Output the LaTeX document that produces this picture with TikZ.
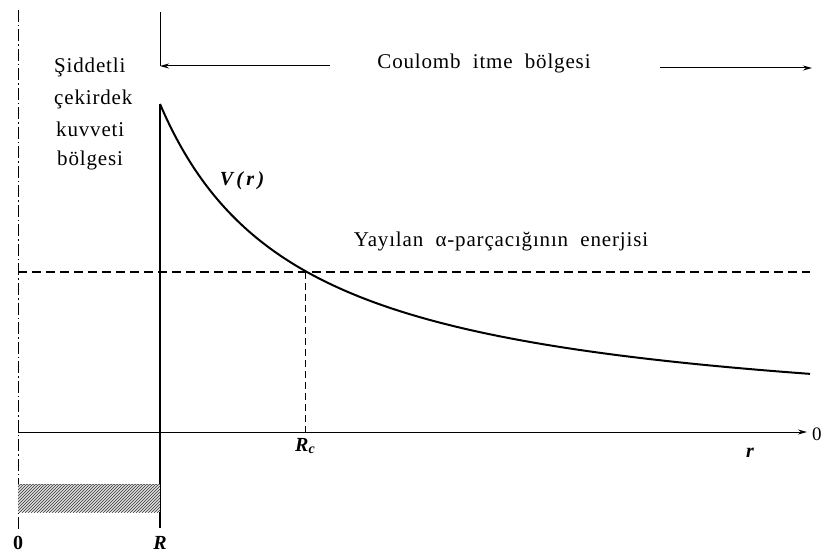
\documentclass[tikz,border=0pt]{standalone}
\usepackage{fontspec}
\setmainfont{Liberation Serif}
\usetikzlibrary{arrows.meta,patterns}
\begin{document}
\begin{tikzpicture}[x=1pt,y=-1pt,
  lbl/.style={inner sep=0pt,font=\fontsize{21}{30}\selectfont\addfontfeature{LetterSpace=4}},
  mlbl/.style={inner sep=0pt,font=\fontsize{20}{30}\selectfont\bfseries\itshape},
  thinln/.style={line width=1pt},
  arr/.style={-{Stealth[length=9pt,width=5pt]}}]
\useasboundingbox (0,0) rectangle (825,556);
% coordinates
\coordinate (Otop) at (18,10);
\coordinate (Obot) at (18,530);
\coordinate (Rtop) at (160,12);
\coordinate (Rcorner) at (160,66);
\coordinate (Rcurve) at (160,104);
\coordinate (Rbot) at (160,528);
\coordinate (Ax0) at (18,432);
\coordinate (Ax1) at (807,432);
\coordinate (E0) at (18,272);
\coordinate (E1) at (810,272);
\coordinate (Rc) at (305,272);
\coordinate (Rcax) at (305,432);
\coordinate (La) at (330,66);
\coordinate (Ra0) at (660,68);
\coordinate (Ra1) at (812,68);
% left dash-dot line
\draw[line width=1pt, dash pattern=on 12pt off 3pt on 1.5pt off 3pt] (Otop) -- (Obot);
% R vertical line
\draw[line width=2pt] (Rcurve) -- (Rbot);
\draw[thinln] (Rtop) -- (Rcorner);
% top arrows
\draw[thinln,arr] (La) -- (Rcorner);
\draw[thinln,arr] (Ra0) -- (Ra1);
% hatched box
\fill[black!12] (18,484) rectangle (160,512);
\path[pattern=north east lines, pattern color=black!80] (18,484) rectangle (160,512);
\draw[line width=0.5pt, densely dotted, black!60] (18,484) -- (160,484);
% axis
\draw[thinln,arr] (Ax0) -- (Ax1);
% energy line
\draw[line width=1.4pt, dash pattern=on 9pt off 5pt] (E0) -- (E1);
\draw[line width=0.8pt, dash pattern=on 7pt off 4pt] (Rc) -- (Rcax);
% curve V = k/(x-20)
\draw[line width=2pt, domain=160:810, samples=120, smooth] plot (\x, {432-459.2/((\x-20)/100)});
% labels
\node[lbl, anchor=west] (t1) at (54,67) {Şiddetli};
\node[lbl, anchor=west] (t2) at (54,99) {çekirdek};
\node[lbl, anchor=west] (t3) at (56,129) {kuvveti};
\node[lbl, anchor=west] (t4) at (57,160) {bölgesi};
\node[lbl] (coul) at (484,63) {Coulomb \ itme \ bölgesi};
\node[mlbl] (vr) at (242,181) {V\,(\,r\,)};
\node[lbl] (yay) at (501,241) {Yayılan \ α-parçacığının \ enerjisi};
\node[mlbl] (rc) at (305,446) {R\raisebox{-0.3ex}{\fontsize{14}{14}\selectfont c}};
\node[mlbl] (r) at (750,453) {r};
\node[lbl, anchor=west, font=\fontsize{19}{30}\selectfont] (zr) at (812,434) {0};
\node[lbl,font=\fontsize{20}{30}\selectfont\bfseries] (z) at (18,543) {0};
\node[mlbl] (R) at (160,543) {R};
\end{tikzpicture}
\end{document}
